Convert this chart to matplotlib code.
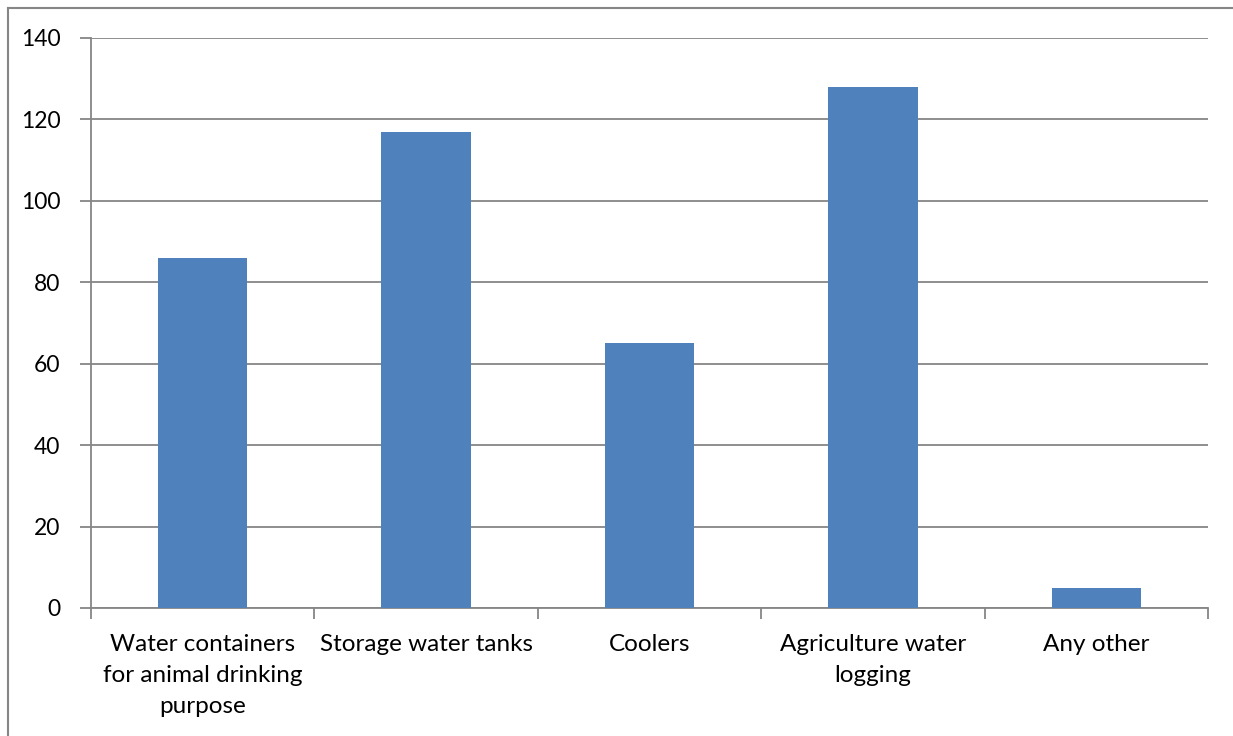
import matplotlib
matplotlib.use("Agg")
import matplotlib.pyplot as plt
from matplotlib.lines import Line2D

categories = ["Water containers\nfor animal drinking\npurpose", "Storage water tanks",
              "Coolers", "Agriculture water\nlogging", "Any other"]
values = [86, 117, 65, 128, 5]
yticks = [0, 20, 40, 60, 80, 100, 120, 140]

plt.rcParams['font.family'] = ['Lato', 'DejaVu Sans']

W, H = 1233, 736
fig = plt.figure(figsize=(W / 100, H / 100), dpi=100)
ax = fig.add_axes([91 / W, 1 - 608 / H, (1208 - 91) / W, (608 - 38) / H])

grey = "#868686"
x = list(range(len(categories)))
ax.bar(x, values, width=0.4, color="#4F81BD", zorder=3)

ax.set_xlim(-0.5, len(categories) - 0.5)
ax.set_ylim(0, 140)
ax.set_yticks(yticks)
ax.set_yticklabels([str(v) for v in yticks], fontsize=16.5)
ax.yaxis.grid(True, color=grey, linewidth=1.3, zorder=0)
ax.set_axisbelow(True)

# category labels centred, ticks on category boundaries
ax.set_xticks(x)
ax.set_xticklabels(categories, fontsize=17.5, linespacing=1.58, va="top")
ax.tick_params(axis="x", length=0, pad=19)
ax.set_xticks([i - 0.5 for i in range(len(categories) + 1)], minor=True)
ax.tick_params(axis="x", which="minor", length=8, color=grey, width=1.3, direction="out")
ax.tick_params(axis="y", length=8, color=grey, width=1.3, direction="out", pad=14)

for s in ["top", "right"]:
    ax.spines[s].set_visible(False)
for s in ["left", "bottom"]:
    ax.spines[s].set_color(grey)
    ax.spines[s].set_linewidth(1.3)

# outer chart frame
fig.add_artist(Line2D([8 / W, 8 / W], [0, 1 - 8 / H], transform=fig.transFigure,
                      color=grey, linewidth=1.5))
fig.add_artist(Line2D([8 / W, 1], [1 - 8 / H, 1 - 8 / H], transform=fig.transFigure,
                      color=grey, linewidth=1.5))

fig.savefig("out.png", dpi=100, facecolor="white")
